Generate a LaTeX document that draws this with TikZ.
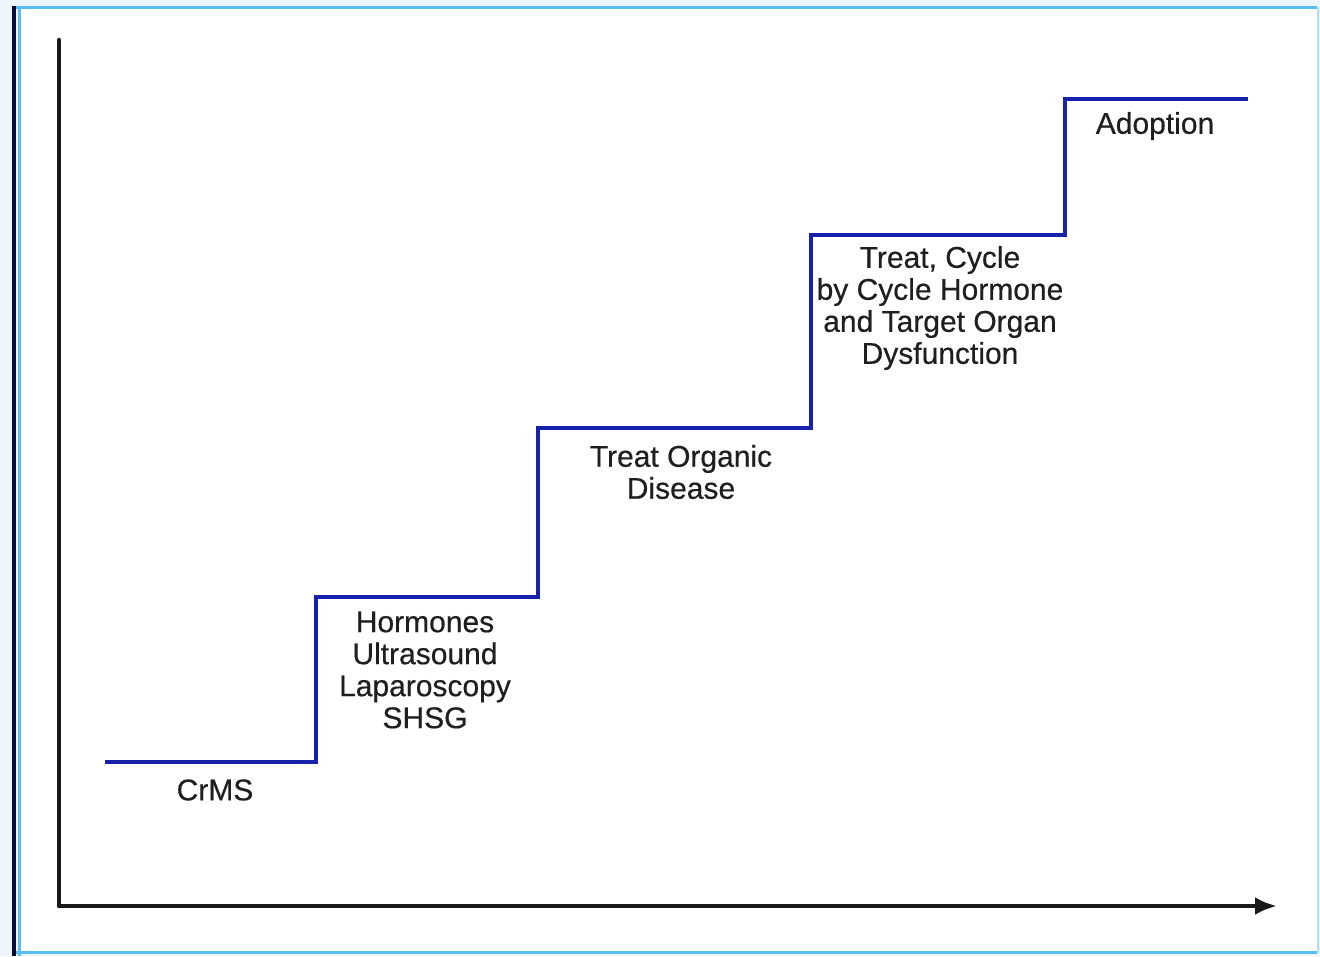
\documentclass[tikz,border=0pt]{standalone}
\usepackage{fontspec}
\setmainfont{Liberation Sans}
\newfontfamily\lblfont{Liberation Sans}[FakeBold=0.4]
\usetikzlibrary{arrows.meta}
\definecolor{stepblue}{RGB}{22,34,170}
\definecolor{frameblue}{RGB}{90,190,245}
\definecolor{pale}{RGB}{236,246,251}
\definecolor{navy}{RGB}{10,10,60}
\tikzset{
  lbl/.style={align=center,font=\lblfont\fontsize{30}{32}\selectfont,inner sep=0pt,text=black!88},
  stair/.style={draw=stepblue,line width=4pt},
  axis/.style={draw=black!90,line width=4.5pt}
}
\begin{document}
\begin{tikzpicture}[x=1pt,y=-1pt]
\useasboundingbox (0,0) rectangle (1320,956);
\fill[pale] (0,0) rectangle (1320,956);
\fill[white] (18,8) rectangle (1317,953);
\draw[frameblue,line width=3pt] (16,7.5) -- (1317,7.5);
\draw[frameblue,line width=3pt] (16,952.5) -- (1317,952.5);
\draw[frameblue,line width=3pt] (19,7) -- (19,956);
\draw[navy,line width=4pt] (14,6) -- (14,956);
\draw[frameblue!50,line width=2pt] (1318,7) -- (1318,953);
% axes
\coordinate (ytop) at (59,40);
\coordinate (orig) at (59,906);
\coordinate (xend) at (1277,906);
\draw[axis,line cap=round] (ytop) -- (orig);
\draw[axis,-{Latex[length=22pt,width=18pt]}] (orig) -- (xend);
% staircase
\coordinate (s0) at (105,762);
\coordinate (s1) at (316,762);
\coordinate (s2) at (316,597);
\coordinate (s3) at (538,597);
\coordinate (s4) at (538,428);
\coordinate (s5) at (811,428);
\coordinate (s6) at (811,235);
\coordinate (s7) at (1065,235);
\coordinate (s8) at (1065,99);
\coordinate (s9) at (1248,99);
\draw[stair] (s0) -- (s1) -- (s2) -- (s3) -- (s4) -- (s5) -- (s6) -- (s7) -- (s8) -- (s9);
% labels
\node[lbl] (crms) at (215,790) {CrMS};
\node[lbl] (hormones) at (425,670) {Hormones\\Ultrasound\\Laparoscopy\\SHSG};
\node[lbl] (organic) at (681,472) {Treat Organic\\Disease};
\node[lbl] (cycle) at (940,308) {Treat, Cycle\\by Cycle Hormone\\and Target Organ\\Dysfunction};
\node[lbl] (adoption) at (1155,126) {Adoption};
\end{tikzpicture}
\end{document}
